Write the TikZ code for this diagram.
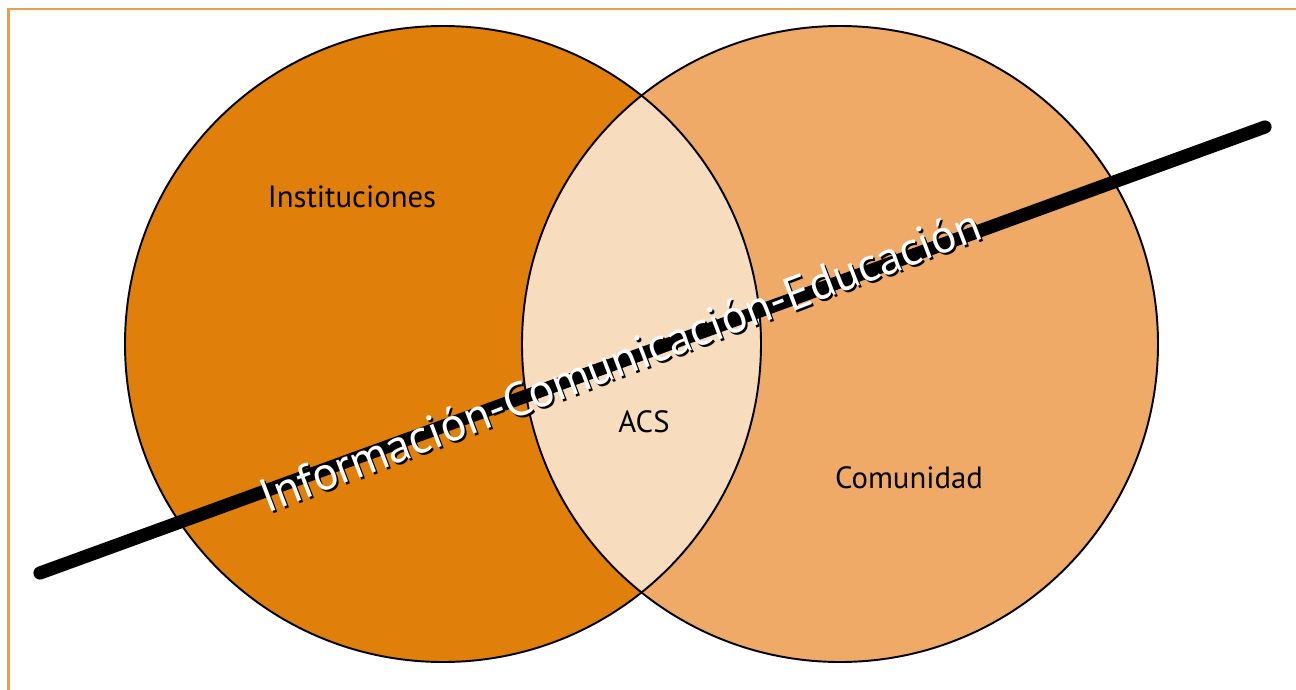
\documentclass[tikz,border=0pt]{standalone}
\usepackage{fontspec}
\setmainfont{PT Sans}
\definecolor{frameorange}{RGB}{232,160,80}
\definecolor{leftfill}{RGB}{224,128,10}
\definecolor{rightfill}{RGB}{239,170,104}
\definecolor{overlapfill}{RGB}{248,220,190}
\begin{document}
\begin{tikzpicture}[x=0.02cm,y=-0.02cm,
  set/.style={circle,inner sep=0pt,minimum size=12.7cm},
  label/.style={font=\fontsize{17.5}{20}\selectfont,text=black},
  banner/.style={font=\fontsize{27}{30}\selectfont,rotate=21,inner sep=0pt}]
\useasboundingbox (0,0) rectangle (1296,690);
% outer frame
\draw[frameorange,line width=1.2pt] (8.5,700) -- (8.5,9) -- (1310,9);
% the two sets
\coordinate (cl) at (443,344);
\coordinate (cr) at (840,344);
\node[set,fill=leftfill] (inst) at (cl) {};
\node[set,fill=rightfill] (comu) at (cr) {};
\begin{scope}
  \clip (cl) circle (318);
  \fill[overlapfill] (cr) circle (318);
\end{scope}
\draw[black,line width=1.1pt] (cl) circle (318);
\draw[black,line width=1.1pt] (cr) circle (318);
% axis
\coordinate (a1) at (40,573);
\coordinate (a2) at (1265,127);
\draw[black,line width=7.5pt,line cap=round] (a1) -- (a2);
% labels
\node[label] (t1) at (352,197) {Instituciones};
\node[label] (t2) at (644,422) {ACS};
\node[label] (t3) at (909,478) {Comunidad};
\node[banner,text=black] (bs) at (622,362) {Información-Comunicación-Educación};
\node[banner,text=white] (b) at (620,360) {Información-Comunicación-Educación};
\end{tikzpicture}
\end{document}
